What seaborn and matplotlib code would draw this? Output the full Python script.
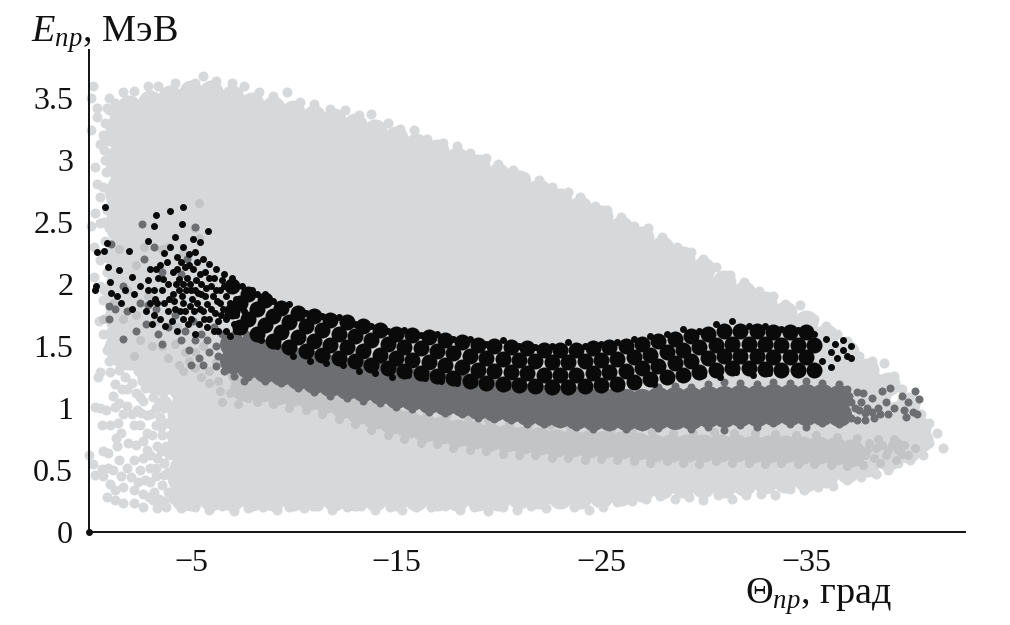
import matplotlib
matplotlib.use("Agg")
import matplotlib.pyplot as plt
import seaborn as sns
import pandas as pd

# Data: (angle in degrees, energy in MeV)
light_core = [
(-2,3.23),(-2,2.98),(-2,2.73),(-2,2.48),(-2,2.23),(-2,1.98),(-2,1.73),(-2,1.5),
(-3.5,3.28),(-3.5,3.03),(-3.5,2.78),(-3.5,2.53),(-3.5,2.28),(-3.5,2.03),(-3.5,1.78),(-3.5,1.53),(-3.5,1.3),
(-5,3.35),(-5,3.2),(-5,2.95),(-5,2.7),(-5,2.45),(-5,2.2),(-5,1.95),(-5,1.7),(-5,1.45),(-5,1.2),(-5,.95),(-5,.7),(-5,.45),
(-6.5,3.33),(-6.5,3.2),(-6.5,2.95),(-6.5,2.7),(-6.5,2.45),(-6.5,2.2),(-6.5,1.95),(-6.5,1.7),(-6.5,1.45),(-6.5,1.2),(-6.5,.95),(-6.5,.7),(-6.5,.45),
(-8,3.25),(-8,2.95),(-8,2.7),(-8,2.45),(-8,2.2),(-8,1.95),(-8,1.7),(-8,1.45),(-8,1.2),(-8,.95),(-8,.7),(-8,.45),
(-9.5,3.2),(-9.5,2.95),(-9.5,2.7),(-9.5,2.45),(-9.5,2.2),(-9.5,1.95),(-9.5,1.7),(-9.5,1.45),(-9.5,1.2),(-9.5,.95),(-9.5,.7),(-9.5,.45),
(-11,3.15),(-11,2.95),(-11,2.7),(-11,2.45),(-11,2.2),(-11,1.95),(-11,1.7),(-11,1.45),(-11,1.2),(-11,.95),(-11,.7),(-11,.45),
(-12.5,3.1),(-12.5,2.9),(-12.5,2.7),(-12.5,2.45),(-12.5,2.2),(-12.5,1.95),(-12.5,1.7),(-12.5,1.45),(-12.5,1.2),(-12.5,.95),(-12.5,.7),(-12.5,.45),
(-14,3.03),(-14,2.8),(-14,2.55),(-14,2.3),(-14,2.05),(-14,1.8),(-14,1.55),(-14,1.3),(-14,1.05),(-14,.8),(-14,.55),(-14,.45),
(-15.5,2.95),(-15.5,2.7),(-15.5,2.45),(-15.5,2.2),(-15.5,1.95),(-15.5,1.7),(-15.5,1.45),(-15.5,1.2),(-15.5,.95),(-15.5,.7),(-15.5,.45),
(-17,2.87),(-17,2.7),(-17,2.45),(-17,2.2),(-17,1.95),(-17,1.7),(-17,1.45),(-17,1.2),(-17,.95),(-17,.7),(-17,.45),
(-18.5,2.78),(-18.5,2.53),(-18.5,2.28),(-18.5,2.03),(-18.5,1.78),(-18.5,1.53),(-18.5,1.28),(-18.5,1.03),(-18.5,.78),(-18.5,.45),(-18.5,.62),
(-20,2.68),(-20,2.45),(-20,2.2),(-20,1.95),(-20,1.7),(-20,1.45),(-20,1.2),(-20,.95),(-20,.7),(-20,.45),
(-21.5,2.59),(-21.5,2.4),(-21.5,2.15),(-21.5,1.9),(-21.5,1.65),(-21.5,1.4),(-21.5,1.15),(-21.5,.9),(-21.5,.65),(-21.5,.45),
(-23,2.48),(-23,2.2),(-23,1.95),(-23,1.7),(-23,1.45),(-23,1.2),(-23,.95),(-23,.7),(-23,.47),
(-24.5,2.38),(-24.5,2.15),(-24.5,1.9),(-24.5,1.65),(-24.5,1.4),(-24.5,1.15),(-24.5,.9),(-24.5,.68),(-24.5,.47),
(-26,2.25),(-26,1.95),(-26,1.7),(-26,1.45),(-26,1.2),(-26,.95),(-26,.72),(-26,.5),
(-27.5,2.13),(-27.5,1.9),(-27.5,1.65),(-27.5,1.4),(-27.5,1.15),(-27.5,.95),(-27.5,.72),(-27.5,.53),
(-29,2.01),(-29,1.75),(-29,1.5),(-29,1.25),(-29,1.0),(-29,.77),(-29,.55),
(-30.5,1.87),(-30.5,1.65),(-30.5,1.4),(-30.5,1.15),(-30.5,.95),(-30.5,.75),(-30.5,.55),
(-32,1.73),(-32,1.5),(-32,1.25),(-32,1.0),(-32,.78),(-32,.57),
(-33.5,1.61),(-33.5,1.4),(-33.5,1.15),(-33.5,.95),(-33.5,.75),(-33.5,.58),
(-35,1.49),(-35,1.25),(-35,1.0),(-35,.8),(-35,.6),
(-36.5,1.33),(-36.5,1.1),(-36.5,.88),(-36.5,.65),
(-38,1.11),(-38,.92),(-38,.72),
(-39.5,.86),
]
light_mid = [
(-1.6,3.38),(-2,3.43),(-3,3.47),(-4,3.51),(-5,3.55),(-6,3.55),(-7,3.51),(-8,3.45),(-9,3.42),(-10,3.39),(-11,3.35),(-12,3.32),(-13,3.28),(-14,3.23),(-15,3.18),(-16,3.12),(-17,3.07),(-18,3.01),(-19,2.95),(-20,2.88),(-21,2.82),(-22,2.75),(-23,2.68),(-24,2.61),(-25,2.54),(-26,2.45),(-27,2.37),(-28,2.29),(-29,2.21),(-30,2.12),(-31,2.02),(-32,1.93),(-33,1.85),(-34,1.77),(-35,1.69),(-36,1.58),(-37,1.45),(-38,1.31),(-39,1.19),(-40,1.03),(-40.5,.84),
(-4.6,.27),(-5,.27),(-6,.27),(-7,.27),(-8,.27),(-9,.27),(-10,.27),(-11,.27),(-12,.27),(-13,.27),(-14,.27),(-15,.27),(-16,.27),(-17,.27),(-18,.27),(-19,.27),(-20,.27),(-21,.28),(-22,.28),(-23,.28),(-24,.28),(-25,.29),(-26,.31),(-27,.34),(-28,.36),(-29,.37),(-30,.37),(-31,.37),(-32,.39),(-33,.4),(-34,.41),(-35,.42),(-36,.45),(-37,.49),(-38,.54),(-39,.59),(-40,.65),(-40.6,.74),
]
light_edge = [
(-5.6,3.68),(-5.2,3.62),(-6.2,3.64),(-7,3.62),(-7.6,3.6),(-4.2,3.62),(-3.4,3.6),(-2.9,3.6),(-2.2,3.56),(-1.7,3.55),(-1,3.5),(-.2,3.6),(-.1,3.5),(-.4,3.42),(-.9,3.42),(-1.3,3.46),
(-8.3,3.55),(-9,3.52),(-9.7,3.55),(-10.3,3.47),(-11,3.45),(-11.8,3.41),(-12.5,3.4),(-13.2,3.36),(-13.8,3.37),(-14.6,3.3),(-15.2,3.25),(-15.9,3.24),(-16.5,3.17),(-17.3,3.14),(-18,3.11),(-18.6,3.06),(-19.4,3.02),(-20,2.97),(-20.7,2.92),(-21.3,2.86),(-22,2.84),(-22.6,2.78),(-23.4,2.74),(-24,2.7),(-24.7,2.63),(-25.3,2.6),(-26,2.54),(-26.6,2.47),(-27.3,2.45),(-28,2.38),(-28.7,2.3),(-29.4,2.26),(-30,2.2),(-30.6,2.14),(-31.3,2.07),(-32,2.02),(-32.7,1.94),(-33.4,1.9),(-34,1.84),(-34.7,1.83),(-35.4,1.72),(-36,1.66),(-36.5,1.6),(-37,1.54),(-37.6,1.42),(-38.2,1.38),(-38.8,1.36),(-39.3,1.26),(-39.7,1.15),(-40.2,1.08),(-40.6,.95),(-41,.88),(-41.4,.8),(-41.7,.68),(-41,.72),(-40.7,.62),(-40.1,.58),(-39.5,.56),
(-3.8,.2),(-4.5,.19),(-5.2,.2),(-5.9,.18),(-6.5,.21),(-7.1,.17),(-7.8,.19),(-8.5,.2),(-9.2,.18),(-9.8,.2),(-10.5,.19),(-11.2,.21),(-11.9,.18),(-12.6,.2),(-13.3,.21),(-14,.18),(-14.7,.2),(-15.3,.18),(-16,.2),(-16.7,.2),(-17.4,.21),(-18.1,.18),(-18.8,.2),(-19.5,.17),(-20.2,.2),(-20.9,.18),(-21.6,.21),(-22.3,.19),(-23,.23),(-23.7,.2),(-24.4,.18),(-25.1,.2),(-25.8,.24),(-26.5,.25),(-27.2,.27),(-27.9,.29),(-28.6,.27),(-29.3,.28),(-30,.26),(-30.7,.3),(-31.4,.27),(-32.1,.3),(-32.8,.31),(-33.5,.3),(-34.2,.35),(-34.9,.34),(-35.6,.36),(-36.3,.37),(-37,.42),(-37.7,.44),(-38.4,.47),(-39,.5),
(-.4,3.35),(-.1,3.24),(-.55,3.13),(-.3,2.94),(-.4,2.81),(-.55,2.7),(-.3,2.57),(-.1,2.47),(-.55,2.49),(-.25,2.3),(-.55,2.19),(-.25,2.06),(-.55,1.98),(-.7,1.87),(-.8,3.3),(-.8,3),(-.9,2.6),(-.8,2.35),(-.9,2.1),(-1,3.4),
(-.7,3.2),(-.75,3.08),(-.85,2.9),(-.7,2.78),(-.75,2.5),(-.7,2.22),(-.75,1.95),(-1,1.9),(-1.1,1.8),(-.95,3.15),(-1,2.75),(-1,2.45),(-1,2.2),(-1.05,2),(-1.1,3.3),(-1.1,2.95),(-1.1,2.65),(-1.1,2.3),
(-.3,1.01),(-.55,1),(-.85,.98),(-1.3,1.01),(-1.9,1.02),(-.65,.86),(-1.05,.86),(-1.45,.88),(-2.2,.86),(-1.6,.8),(-1.95,.72),(-1.4,.69),(-.7,.65),(-.95,.64),(0,.62),(-.2,.55),(-.65,.51),(-.95,.52),(-.3,.46),(-.7,.45),(-1.2,.5),(-1.5,.58),(-2.2,.58),(-2.65,.6),(-1.9,.52),(-2.5,.5),(-1.05,.39),(-1.3,.34),(-.9,.28),(-1.3,.26),(-1.7,.23),(-2.2,.23),(-2.65,.2),(-1.7,.36),(-2.2,.34),(-2.65,.31),(-3.15,.26),(-3.35,.19),(-.9,1.47),(-.55,1.29),(-.47,1.25),(-1.05,1.29),(-1.3,1.19),(-1.5,1.31),(-1.8,1.25),(-1.2,1.1),(-1.9,1.15),(-1.5,1.04),(-2.5,1.09),(-2.35,.98),(-2.85,.94),(-2.65,1.06),(-3.15,1.09),(-3.8,1.06),(-3.5,.93),(-4.1,.85),(-2.5,.86),(-2.85,.8),(-3.8,.69),(-3.35,.69),(-3.35,.6),(-.7,1.6),(-1,1.5),(-1.4,1.41),(-1.9,1.47),(-2.2,1.36),(-2.65,1.39),(-.5,1.7),(-1,1.75),(-1.1,1.62),
(-3,.4),(-3.3,.45),(-3.6,.38),(-3.9,.32),(-3.2,.32),(-3.7,.25),(-4.1,.27),(-4.3,.38),(-3.9,.48),(-4.2,.55),(-3.7,.56),(-3,.52),(-3.3,.52),(-2.85,.66),(-3.95,.62),(-4.2,.72),(-3.6,.78),(-3.1,.78),(-3.3,.86),(-3.85,.88),(-4.15,.98),(-3.3,1),(-3.65,1.12),(-3,1.17),(-2.6,1.22),(-3.35,1.2),(-2.9,1.3),(-2.4,1.3),(-3.2,1.32),(-1.6,1.6),(-2,1.62),(-1.4,1.72),(-1.5,1.5),(-1,1.38),(-2.6,1.52),(-2.9,1.45),(-2.3,1.5),(-3.9,1.15),(-4.1,1.25),
(-2.4,.4),(-2.75,.42),(-2.05,.44),(-1.6,.45),(-2.95,.28),(-3.45,.27),(-2.3,.7),(-2.65,.73),(-3,.62),(-3.7,.46),(-4,.78),(-3.55,.65),(-2.1,1.2),(-2.3,1.12),(-3.45,1.05),(-3.05,.95),(-2.75,1.16),(-2.1,.95),(-1.7,.95),(-1.65,1.15),(-1.35,.76),(-2.05,1.35),(-2.55,.96),(-3.7,1),(-3.55,1.25),(-3.75,1.3),(-4.2,.45),(-4.25,.63),(-3.55,.85),
]
mid_core = [
(-7.6,1.17),(-8.4,1.16),(-9.2,1.14),(-10,1.13),(-10.8,1.1),(-11.6,1.07),(-12.4,1.03),(-13.2,.98),(-14,.94),(-14.8,.9),(-15.6,.87),(-16.4,.84),(-17.2,.82),(-18,.8),(-18.8,.78),(-19.6,.77),(-20.4,.76),(-21.2,.74),(-22,.73),(-22.8,.72),(-23.6,.72),(-24.4,.71),(-25.2,.71),(-26,.7),(-26.8,.69),(-27.6,.68),(-28.4,.68),(-29.2,.68),(-30,.68),(-30.8,.68),(-31.6,.68),(-32.4,.67),(-33.2,.67),(-34,.67),(-34.8,.665),(-35.6,.66),(-36.4,.65),(-37.2,.64),
]
mid_dots = [
(-5.4,2.65),(-5.2,2.45),(-5.4,2.37),(-3.9,2.3),(-2.7,2.3),(-1.5,2.28),(-2.3,2.15),(-4.6,2.25),(-3.6,2.28),(-1.9,1.95),(-1.2,1.85),(-2.3,1.75),(-3.3,1.7),(-2.5,1.55),(-4.3,1.65),(-3.6,1.5),(-4.7,1.45),(-5.6,1.5),(-5.2,1.32),(-4.6,1.3),(-3.9,1.4),(-6.2,1.37),(-.7,1.72),(-1.7,1.72),(-2.9,1.9),
(-4.2,1.52),(-4.9,1.38),(-5.5,1.25),(-5.9,1.3),(-6.3,1.22),(-6.7,1.3),(-7,1.25),(-7.2,1.15),(-6.9,1.12),(-6.4,1.14),(-5.9,1.2),(-5.2,1.45),(-4.4,1.35),(-3.1,1.5),(-2.2,1.42),(-7.5,1.3),(-6.6,1.4),(-7.8,1.08),(-8.5,1.28),(-9.4,1.27),
(-6.5,1.05),(-7.3,1.03),(-8.2,1.05),(-9,1.03),(-9.8,1),(-10.6,.98),(-11.4,.95),(-12.2,.91),(-13,.87),(-13.8,.82),(-14.6,.78),(-15.4,.75),(-16.2,.72),(-17,.71),(-17.8,.68),(-18.6,.66),(-19.4,.65),(-20.2,.63),(-21,.62),(-21.8,.62),(-22.6,.6),(-23.4,.6),(-24.2,.58),(-25,.59),(-25.8,.58),(-26.6,.57),(-27.4,.56),(-28.2,.57),(-29,.56),(-29.8,.55),(-30.6,.57),(-31.4,.56),(-32.2,.56),(-33,.55),(-33.8,.56),(-34.6,.55),(-35.4,.55),(-36.2,.54),(-37,.53),(-37.8,.54),(-38.6,.56),(-39.4,.58),(-40,.62),(-40.3,.68),(-39.8,.7),(-39.3,.75),(-39,.66),(-39.5,.66),
(-37.5,.76),(-36.5,.77),(-35.5,.78),(-34.5,.78),(-33.5,.79),(-32.5,.8),(-31.5,.8),(-30.5,.81),(-29.5,.8),(-28.5,.8),(-27.5,.81),(-26.5,.82),(-25.5,.83),(-24.5,.83),(-23.5,.85),(-22.5,.86),(-21.5,.87),(-20.5,.88),(-19.5,.9),(-18.5,.92),(-17.5,.95),(-16.5,.97),(-38.5,.75),(-39.5,.72),
(-38,.66),(-38.3,.6),(-38.7,.7),(-38.1,.72),(-37.9,.62),(-38.9,.62),(-39.2,.7),(-37.6,.68),(-38.4,.68),(-39.7,.63),
]
dark_core = [
(-7,1.52),(-7.8,1.48),(-8.6,1.45),(-9.4,1.42),(-10.2,1.39),(-11,1.36),(-11.8,1.33),(-12.6,1.31),(-13.4,1.29),(-14.2,1.27),(-15,1.24),(-15.8,1.22),(-16.6,1.2),(-17.4,1.18),(-18.2,1.17),(-19,1.15),(-19.8,1.13),(-20.6,1.12),(-21.4,1.1),(-22.2,1.09),(-23,1.08),(-23.8,1.07),(-24.6,1.06),(-25.4,1.06),(-26.2,1.06),(-27,1.06),(-27.8,1.07),(-28.6,1.07),(-29.4,1.07),(-30.2,1.08),(-31,1.08),(-31.8,1.09),(-32.6,1.09),(-33.4,1.1),(-34.2,1.1),(-35,1.1),(-35.8,1.1),(-36.6,1.09),
(-7,1.38),(-7.8,1.34),(-8.6,1.31),(-9.4,1.28),(-10.2,1.25),(-11,1.22),(-11.8,1.19),(-12.6,1.17),(-13.4,1.15),(-14.2,1.13),(-15,1.1),(-15.8,1.08),(-16.6,1.06),(-17.4,1.04),(-18.2,1.03),(-19,1.01),(-19.8,.99),(-20.6,.98),(-21.4,.96),(-22.2,.95),(-23,.94),(-23.8,.93),(-24.6,.92),(-25.4,.92),(-26.2,.92),(-27,.92),(-27.8,.93),(-28.6,.93),(-29.4,.93),(-30.2,.94),(-31,.94),(-31.8,.95),(-32.6,.95),(-33.4,.96),(-34.2,.96),(-35,.96),(-35.8,.96),(-36.6,.95),
]
dark_dots = [
(-1,1.72),(-1.3,1.8),(-1,1.82),(-2.9,1.83),(-3.3,1.8),(-2.5,1.85),(-1.9,1.78),(-1.7,1.56),(-2.3,1.62),(-2.8,1.68),(-3.4,1.6),(-3.9,1.65),(-3.6,1.52),(-4.5,1.55),(-4.9,1.47),(-5.5,1.6),(-5.1,1.7),(-4.2,1.75),(-3.2,2.3),(-4.8,2.2),(-4.5,2.08),(-3.6,2.1),(-5.2,2.46),(-2.6,2.48),(-1.1,2.32),(-2.7,2.2),(-1.7,1.98),(-5.4,1.4),(-6.2,1.34),(-6.6,1.3),
(-5.8,1.55),(-6.2,1.5),(-6.5,1.6),(-6.3,1.42),(-5.9,1.45),(-5.6,1.35),(-6.7,1.42),(-6.1,1.65),(-5.2,1.55),(-4.7,1.62),(-6.8,1.55),(-7.2,1.62),(-7.7,1.6),(-8.1,1.57),(-5,1.35),(-7.1,1.26),(-7.6,1.22),
(-7.8,1.25),(-8.6,1.22),(-9.4,1.2),(-10.2,1.16),(-11,1.13),(-11.8,1.1),(-12.6,1.08),(-13.4,1.06),(-14.2,1.04),(-15,1.01),(-15.8,.99),(-16.6,.97),(-17.4,.96),(-18.2,.95),(-19,.92),(-19.8,.91),(-20.6,.9),(-21.4,.87),(-22.2,.87),(-23,.87),(-23.8,.85),(-24.6,.83),(-25.4,.85),(-26.2,.83),(-27,.85),(-27.8,.84),(-28.6,.86),(-29.4,.83),(-30.2,.85),(-31,.82),(-31.8,.86),(-32.6,.85),(-33.4,.88),(-34.2,.87),(-35,.85),(-35.8,.88),(-36.6,.87),
(-27.8,1.17),(-28.6,1.18),(-29.4,1.17),(-30.2,1.19),(-31,1.21),(-31.8,1.2),(-32.6,1.19),(-33.4,1.21),(-34.2,1.2),(-35,1.22),(-35.8,1.2),(-36.6,1.19),
(-37,1.15),(-37.5,1.13),(-37.2,1.05),(-37.6,.98),(-37.2,.92),(-37.9,.9),(-38.3,.92),(-38.5,1),(-38.2,1.08),(-38.7,1.14),(-39.1,1.16),(-38.9,1.05),(-39.3,1),(-39,.95),(-39.8,.98),(-40,1.05),(-39.7,1.1),(-40.2,.97),(-39.9,.93),(-40.3,1.14),(-40.5,1.07),(-40.4,.95),(-36.9,1.03),(-37.7,1.05),
(-37.4,1.0),(-37.8,1.12),(-38,1.0),(-37.1,1.1),(-37.5,.9),(-36.9,.9),(-38.6,.95),(-38.2,.97),(-37.9,.96),
]
black_core = [
(-7,1.98),(-7.8,1.92),(-8.6,1.87),(-9.4,1.81),(-10.2,1.77),(-11,1.74),(-11.8,1.71),(-12.6,1.69),(-13.4,1.66),(-14.2,1.63),(-15,1.6),(-15.8,1.59),(-16.6,1.57),(-17.4,1.55),(-18.2,1.53),(-19,1.51),(-19.8,1.5),(-20.6,1.49),(-21.4,1.48),(-22.2,1.47),(-23,1.47),(-23.8,1.47),(-24.6,1.48),(-25.4,1.49),(-26.2,1.5),(-27,1.52),(-27.8,1.54),(-28.6,1.56),(-29.4,1.58),(-30.2,1.6),(-31,1.62),(-31.8,1.62),(-32.6,1.62),(-33.4,1.61),(-34.2,1.61),(-35,1.61),
(-7.4,1.85),(-8.2,1.8),(-9,1.74),(-9.8,1.69),(-10.6,1.66),(-11.4,1.625),(-12.2,1.6),(-13,1.58),(-13.8,1.545),(-14.6,1.52),(-15.4,1.495),(-16.2,1.48),(-17,1.46),(-17.8,1.44),(-18.6,1.42),(-19.4,1.405),(-20.2,1.395),(-21,1.385),(-21.8,1.375),(-22.6,1.37),(-23.4,1.37),(-24.2,1.375),(-25,1.385),(-25.8,1.395),(-26.6,1.41),(-27.4,1.43),(-28.2,1.45),(-29,1.47),(-29.8,1.49),(-30.6,1.51),(-31.4,1.52),(-32.2,1.52),(-33,1.515),(-33.8,1.51),(-34.6,1.51),(-35.4,1.505),
(-7,1.78),(-7.8,1.72),(-8.6,1.67),(-9.4,1.61),(-10.2,1.57),(-11,1.54),(-11.8,1.51),(-12.6,1.49),(-13.4,1.46),(-14.2,1.43),(-15,1.4),(-15.8,1.39),(-16.6,1.37),(-17.4,1.35),(-18.2,1.33),(-19,1.31),(-19.8,1.3),(-20.6,1.29),(-21.4,1.28),(-22.2,1.27),(-23,1.27),(-23.8,1.27),(-24.6,1.28),(-25.4,1.29),(-26.2,1.3),(-27,1.32),(-27.8,1.34),(-28.6,1.36),(-29.4,1.38),(-30.2,1.4),(-31,1.42),(-31.8,1.42),(-32.6,1.42),(-33.4,1.41),(-34.2,1.41),(-35,1.41),
(-7.4,1.65),(-8.2,1.6),(-9,1.54),(-9.8,1.49),(-10.6,1.46),(-11.4,1.425),(-12.2,1.4),(-13,1.38),(-13.8,1.345),(-14.6,1.32),(-15.4,1.295),(-16.2,1.28),(-17,1.26),(-17.8,1.24),(-18.6,1.22),(-19.4,1.205),(-20.2,1.195),(-21,1.185),(-21.8,1.175),(-22.6,1.17),(-23.4,1.17),(-24.2,1.175),(-25,1.185),(-25.8,1.195),(-26.6,1.21),(-27.4,1.23),(-28.2,1.25),(-29,1.27),(-29.8,1.29),(-30.6,1.31),(-31.4,1.32),(-32.2,1.32),(-33,1.315),(-33.8,1.31),(-34.6,1.31),(-35.4,1.305),
]
black_dots = [
(-.8,2.62),(-3.3,2.56),(-4,2.59),(-4.6,2.62),(-4.55,2.48),(-3.2,2.47),(-5.85,2.43),(-4.2,2.38),(-2.9,2.35),(-5.1,2.36),(-5.45,2.34),(-.9,2.33),(-.4,2.26),(-.75,2.27),(-2,2.27),(-.95,2.14),(-1.5,2.11),(-.35,1.98),(-1.05,2.02),(-2.1,2.06),(-.3,1.95),(-1.1,1.93),(-1.4,1.9),(-1.8,1.95),(-2.2,1.92),(-2.5,1.98),(-2.9,2.03),(-1.6,1.85),(-2.1,1.8),
(-3,1.85),(-3.2,1.95),(-3.4,2.05),(-3.5,2.15),(-3.7,2.25),(-4,2.3),(-4.3,2.22),(-4.6,2.3),(-4.9,2.24),(-5.2,2.26),(-5.6,2.2),(-5.9,2.16),(-6.2,2.12),(-6.6,2.08),(-7,2.05),(-7.5,1.98),(-8,1.95),(-8.6,1.92),(-3.7,1.85),(-3.9,2),(-4.1,2.1),(-4.4,1.95),(-4.2,1.8),(-4.6,1.85),(-4.8,2.05),(-5,1.95),(-5.1,2.12),(-5.3,1.85),(-5.5,2),(-5.7,1.9),(-5.9,2.05),(-6,1.8),(-6.2,1.95),(-6.4,1.85),(-6.6,1.98),(-6.8,1.75),(-3.5,1.72),(-3.9,1.78),(-4.6,1.72),(-5,1.72),(-5.4,1.68),(-5.8,1.65),(-6.3,1.7),(-6.7,1.62),(-7.2,1.62),(-4.3,1.62),(-3.2,1.75),(-2.8,1.78),
(-4.4,2.04),(-3.6,1.95),(-4.95,1.82),(-5.6,1.78),(-6.1,1.62),(-5.2,1.6),(-4.1,1.92),(-5.8,1.84),(-6.5,2.03),(-7.2,1.88),(-6.9,1.95),
(-4.3,2.12),(-4.7,2.14),(-5.3,2.18),(-5.7,2.1),(-6.1,2.05),(-6.4,1.95),(-5.25,2.03),(-5.35,1.93),(-6.05,1.9),(-5.65,1.72),(-6.45,1.75),(-5.05,1.88),(-4.75,1.95),(-4.45,1.78),(-3.35,1.85),(-3.1,1.68),(-6.9,1.85),(-7.2,1.75),(-7.6,1.78),(-6.7,1.72),(-7.1,1.68),(-5.9,1.72),(-5.45,1.8),(-4.85,1.68),(-4.05,1.7),(-3.75,1.66),(-3.25,1.88),(-2.9,1.95),(-3,2.12),(-6.3,1.62),(-6.9,1.58),
(-4.15,1.86),(-4.55,1.9),(-4.95,2),(-5.15,1.78),(-5.45,2.08),(-5.75,1.97),(-6.15,1.77),(-6.55,1.8),(-4.7,1.78),(-3.95,1.88),(-3.65,2.04),(-3.3,2.12),(-4.9,2.15),(-5.5,1.92),(-6,1.98),(-4.25,2.0),(-3.85,2.18),(-4.5,2.18),(-6.7,1.9),(-6.25,1.86),(-5.2,1.95),(-4.6,2.0),
(-8.4,1.55),(-9.2,1.5),(-10,1.42),(-10.8,1.38),(-11.6,1.36),(-12.4,1.35),(-13.2,1.3),(-14,1.28),(-14.8,1.25),(-15.6,1.27),(-16.4,1.24),(-17.2,1.22),(-18,1.2),(-18.8,1.19),(-19.6,1.19),(-20.4,1.17),(-21.2,1.18),(-22,1.16),(-22.8,1.17),(-23.6,1.15),(-24.4,1.17),(-25.2,1.18),(-26,1.17),(-26.8,1.2),(-27.6,1.19),(-28.4,1.23),(-29.2,1.25),(-30,1.27),(-30.8,1.25),(-31.6,1.29),(-32.4,1.27),(-33.2,1.28),(-34,1.29),(-34.8,1.29),
(-8.2,1.92),(-9,1.86),(-9.8,1.84),(-10.6,1.77),(-11.4,1.74),(-12.2,1.73),(-13,1.68),(-13.8,1.66),(-14.6,1.62),(-15.4,1.63),(-16.2,1.59),(-17,1.6),(-17.8,1.56),(-18.6,1.56),(-19.4,1.52),(-20.2,1.55),(-21,1.5),(-21.8,1.49),(-22.6,1.5),(-23.4,1.53),(-24.2,1.5),(-25,1.52),(-25.8,1.53),(-26.6,1.56),(-27.4,1.58),(-28.2,1.6),(-29,1.64),(-29.8,1.62),(-30.6,1.68),(-31.4,1.7),(-32.2,1.66),(-33,1.66),(-33.8,1.64),(-34.6,1.63),(-35.4,1.6),
(-35.6,1.5),(-35.8,1.38),(-36,1.56),(-36.2,1.45),(-36.2,1.33),(-36.4,1.52),(-36.5,1.4),(-36.8,1.55),(-36.8,1.47),(-37,1.42),(-37.2,1.5),(-37.2,1.4),(-35.4,1.32),
]

# Axis ticks and labels
x_major = [-5, -15, -25, -35]
x_major_labels = ["−5", "−15", "−25", "−35"]
x_minor = [-10, -20, -30, -40]
y_major = [0, .5, 1, 1.5, 2, 2.5, 3, 3.5]
y_major_labels = ["0", "0.5", "1", "1.5", "2", "2.5", "3", "3.5"]
y_minor = [.25, .75, 1.25, 1.75, 2.25, 2.75, 3.25, 3.75]

sns.set_theme(style="white")
plt.rcParams["font.family"] = ["Liberation Serif", "DejaVu Serif"]
plt.rcParams["mathtext.fontset"] = "custom"
plt.rcParams["mathtext.rm"] = "Liberation Serif"
plt.rcParams["mathtext.it"] = "Liberation Serif:italic"

fig = plt.figure(figsize=(10.1, 6.25), dpi=100)
ax = fig.add_axes([88.5 / 1010, 93 / 625, 876.5 / 1010, 482 / 625])

LIGHT, MID, DARK, BLACK = "#d7d8da", "#c3c4c6", "#6d6e71", "#0a0a0a"


def draw(points, diameter_px, color):
    frame = pd.DataFrame(points, columns=["angle", "energy"])
    sns.scatterplot(data=frame, x="angle", y="energy", ax=ax, color=color,
                    s=(diameter_px * 0.72) ** 2, linewidth=0, clip_on=False,
                    legend=False)


draw(light_core, 48, LIGHT)
draw(light_mid, 24, LIGHT)
draw(light_edge, 10, LIGHT)
draw(mid_core, 28, MID)
draw(mid_dots, 9, MID)
draw(dark_core, 25, DARK)
draw(dark_dots, 8, DARK)
draw(black_core, 16, BLACK)
draw(black_dots, 7, BLACK)

ax.set_xlim(0, -42.76)
ax.set_ylim(0, 3.887)
ax.set_xlabel("")
ax.set_ylabel("")
ax.patch.set_alpha(0)
for side in ("top", "right"):
    ax.spines[side].set_visible(False)
for side in ("left", "bottom"):
    ax.spines[side].set_linewidth(1.4)
    ax.spines[side].set_color("#111111")

ax.set_xticks(x_major, x_major_labels)
ax.set_xticks(x_minor, minor=True)
ax.set_yticks(y_major, y_major_labels)
ax.set_yticks(y_minor, minor=True)
ax.tick_params(axis="both", which="both", direction="in", color="#111111", width=1.2)
ax.tick_params(axis="x", which="major", length=5, pad=12, labelsize=23, labelcolor="#111111")
ax.tick_params(axis="x", which="minor", length=4)
ax.tick_params(axis="y", which="major", length=5.5, pad=11, labelsize=23, labelcolor="#111111")
ax.tick_params(axis="y", which="minor", length=3.5)

ax.plot([0], [0], marker="o", ms=4, color="#111111", clip_on=False, zorder=5)

fig.text(31 / 1010, 1 - 42 / 625, r"$E_{пр}$, МэВ", fontsize=27.5, color="#111111")
fig.text(745 / 1010, 1 - 604 / 625, r"$\mathrm{Θ}_{пр}$, град", fontsize=27.5, color="#111111")

fig.savefig("out.png", dpi=100, facecolor="white")
